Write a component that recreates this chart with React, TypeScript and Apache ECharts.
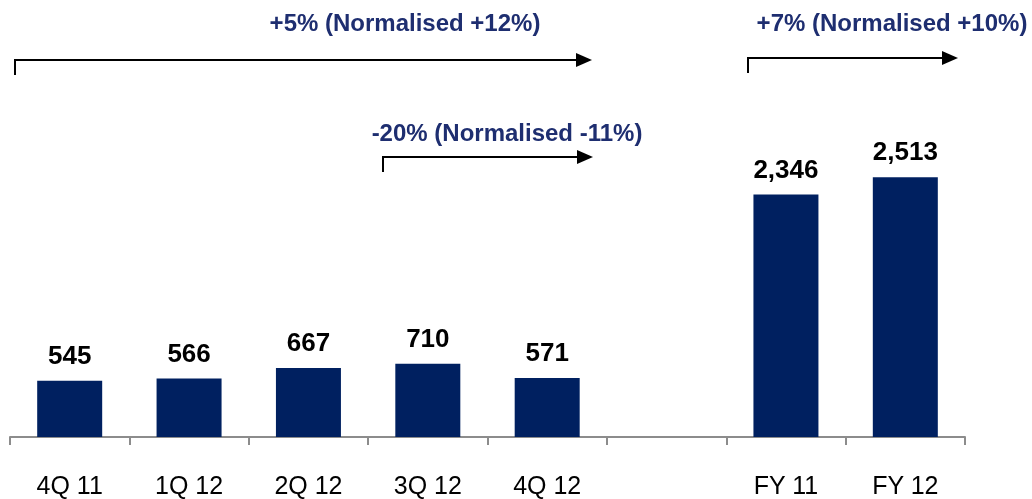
import React, { useEffect, useRef } from "react";
import * as echarts from "echarts";

// Quarterly and full-year figures; the blank slot separates the two groups.
const categories = ["4Q 11", "1Q 12", "2Q 12", "3Q 12", "4Q 12", "", "FY 11", "FY 12"];
const values: (number | null)[] = [545, 566, 667, 710, 571, null, 2346, 2513];

// Growth call-outs drawn above the bars.
const growthLabels = [
  "+5% (Normalised +12%)",
  "-20% (Normalised -11%)",
  "+7% (Normalised +10%)",
];

const FONT = 'Arial, "Liberation Sans", sans-serif';
const NAVY = "#002060";
const CALLOUT = "#1e2e70";

// Bent arrow: short vertical stem rising to a horizontal shaft with a head.
function arrow(x0: number, x1: number, y: number, stem: number) {
  return [
    {
      type: "polyline",
      shape: { points: [[x0, y + stem], [x0, y], [x1 - 14, y]] },
      style: { stroke: "#000", lineWidth: 2, fill: null },
    },
    {
      type: "polygon",
      shape: { points: [[x1 - 16, y - 7], [x1, y], [x1 - 16, y + 7]] },
      style: { fill: "#000" },
    },
  ];
}

function callout(text: string, x: number, y: number) {
  return {
    type: "text",
    x,
    y,
    style: {
      text,
      fill: CALLOUT,
      font: `bold 24px ${FONT}`,
      textAlign: "center",
      textVerticalAlign: "middle",
    },
  };
}

export default function App() {
  const ref = useRef<HTMLDivElement>(null);

  useEffect(() => {
    if (!ref.current) return;
    const chart = echarts.init(ref.current, undefined, { renderer: "svg" });
    chart.setOption({
      animation: false,
      grid: { left: 10, right: 67, top: 127, bottom: 62 },
      xAxis: {
        type: "category",
        data: categories,
        axisLine: { show: true, lineStyle: { color: "#8c8c8c", width: 2 } },
        axisTick: {
          show: true,
          interval: 0,
          inside: false,
          length: 8,
          lineStyle: { color: "#8c8c8c", width: 2 },
        },
        axisLabel: {
          color: "#000",
          fontSize: 25,
          fontFamily: FONT,
          margin: 35,
          interval: 0,
        },
      },
      yAxis: {
        type: "value",
        min: 0,
        max: 3000,
        show: false,
        splitLine: { show: false },
      },
      series: [
        {
          type: "bar",
          data: values,
          barWidth: 65,
          itemStyle: { color: NAVY },
          label: {
            show: true,
            position: "top",
            distance: 13,
            color: "#000",
            fontSize: 26,
            fontWeight: "bold",
            fontFamily: FONT,
            formatter: (p: any) => Number(p.value).toLocaleString("en-US"),
          },
        },
      ],
      graphic: [
        ...arrow(15, 592, 60, 15),
        callout(growthLabels[0], 405, 22),
        ...arrow(383, 593, 157, 15),
        callout(growthLabels[1], 507, 132),
        ...arrow(748, 958, 58, 15),
        callout(growthLabels[2], 892, 22),
      ],
    });
    return () => chart.dispose();
  }, []);

  return (
    <div
      ref={ref}
      style={{ position: "fixed", left: 0, top: 0, width: 1032, height: 499 }}
    />
  );
}
